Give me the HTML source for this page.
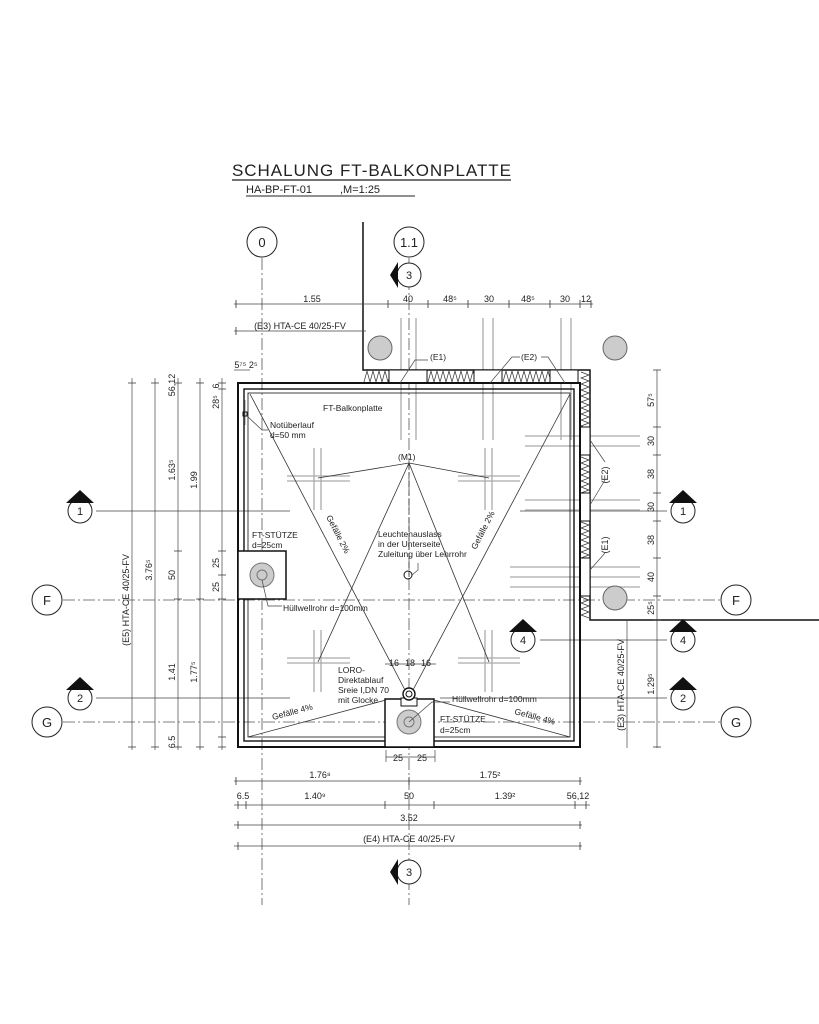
<!DOCTYPE html>
<html><head><meta charset="utf-8"><style>
html,body{margin:0;padding:0;background:#fff}
svg{display:block}
text{font-family:"Liberation Sans",Arial,sans-serif;fill:#222}
</style></head><body>
<svg width="819" height="1024" viewBox="0 0 819 1024" xmlns="http://www.w3.org/2000/svg">
<rect width="819" height="1024" fill="#fff"/>
<!-- title -->
<text x="232" y="176" font-size="17" textLength="279" lengthAdjust="spacing">SCHALUNG  FT-BALKONPLATTE</text>
<line x1="232" y1="180" x2="511" y2="180" stroke="#222" stroke-width="1.2"/>
<text x="246" y="193" font-size="11">HA-BP-FT-01</text>
<text x="340" y="193" font-size="11">,M=1:25</text>
<line x1="246" y1="196" x2="415" y2="196" stroke="#222" stroke-width="1"/>

<!-- grid axes -->
<g stroke="#555" stroke-width="0.8" stroke-dasharray="12,3,2,3" fill="none">
<line x1="262" y1="258" x2="262" y2="905"/>
<line x1="409" y1="258" x2="409" y2="905"/>
<line x1="63" y1="600" x2="720" y2="600"/>
<line x1="63" y1="722" x2="720" y2="722"/>
</g>
<g fill="#fff" stroke="#222" stroke-width="1">
<circle cx="262" cy="242" r="15"/><circle cx="409" cy="242" r="15"/>
<circle cx="47" cy="600" r="15"/><circle cx="736" cy="600" r="15"/>
<circle cx="47" cy="722" r="15"/><circle cx="736" cy="722" r="15"/>
</g>
<g font-size="13" text-anchor="middle">
<text x="262" y="247">0</text><text x="409" y="247">1.1</text>
<text x="47" y="605">F</text><text x="736" y="605">F</text>
<text x="47" y="727">G</text><text x="736" y="727">G</text>
</g>

<!-- section lines -->
<g stroke="#444" stroke-width="0.8">
<line x1="96" y1="511" x2="290" y2="511"/><line x1="520" y1="511" x2="667" y2="511"/>
<line x1="96" y1="698" x2="290" y2="698"/><line x1="440" y1="698" x2="667" y2="698"/>
<line x1="540" y1="640" x2="667" y2="640"/>
</g>
<g fill="#fff" stroke="#222" stroke-width="1">
<circle cx="80" cy="511" r="12"/><circle cx="683" cy="511" r="12"/>
<circle cx="80" cy="698" r="12"/><circle cx="683" cy="698" r="12"/>
<circle cx="523" cy="640" r="12"/><circle cx="683" cy="640" r="12"/>
<circle cx="409" cy="275" r="12"/><circle cx="409" cy="872" r="12"/>
</g>
<g fill="#111">
<path d="M66 503 L80 490 L94 503 Z"/><path d="M669 503 L683 490 L697 503 Z"/>
<path d="M66 690 L80 677 L94 690 Z"/><path d="M669 690 L683 677 L697 690 Z"/>
<path d="M509 632 L523 619 L537 632 Z"/><path d="M669 632 L683 619 L697 632 Z"/>
<path d="M398 262 L390 275 L398 288 Z"/><path d="M398 859 L390 872 L398 885 Z"/>
</g>
<g font-size="11" text-anchor="middle">
<text x="80" y="515">1</text><text x="683" y="515">1</text>
<text x="80" y="702">2</text><text x="683" y="702">2</text>
<text x="523" y="644">4</text><text x="683" y="644">4</text>
<text x="409" y="279">3</text><text x="409" y="876">3</text>
</g>

<!-- rebar gray lines -->
<g stroke="#aaa" stroke-width="1.3">
<line x1="401" y1="318" x2="401" y2="440"/><line x1="416" y1="318" x2="416" y2="440"/>
<line x1="483" y1="318" x2="483" y2="440"/><line x1="493" y1="318" x2="493" y2="440"/>
<line x1="561" y1="318" x2="561" y2="440"/><line x1="571" y1="318" x2="571" y2="440"/>
<line x1="525" y1="436" x2="640" y2="436"/><line x1="525" y1="446" x2="640" y2="446"/>
<line x1="525" y1="500" x2="640" y2="500"/><line x1="525" y1="510" x2="640" y2="510"/>
<line x1="510" y1="567" x2="640" y2="567"/><line x1="510" y1="577" x2="640" y2="577"/><line x1="510" y1="587" x2="640" y2="587"/>
<line x1="314" y1="448" x2="314" y2="510"/><line x1="321" y1="448" x2="321" y2="510"/>
<line x1="287" y1="476" x2="350" y2="476"/><line x1="287" y1="481" x2="350" y2="481"/>
<line x1="485" y1="448" x2="485" y2="510"/><line x1="492" y1="448" x2="492" y2="510"/>
<line x1="458" y1="476" x2="520" y2="476"/><line x1="458" y1="481" x2="520" y2="481"/>
<line x1="314" y1="630" x2="314" y2="692"/><line x1="321" y1="630" x2="321" y2="692"/>
<line x1="287" y1="658" x2="350" y2="658"/><line x1="287" y1="663" x2="350" y2="663"/>
<line x1="485" y1="630" x2="485" y2="692"/><line x1="492" y1="630" x2="492" y2="692"/>
<line x1="458" y1="658" x2="520" y2="658"/><line x1="458" y1="663" x2="520" y2="663"/>
<line x1="245" y1="400" x2="245" y2="425"/>
</g>

<!-- wall -->
<g stroke="#111" stroke-width="1.5" fill="none">
<polyline points="363,222 363,370 590,370 590,620 819,620"/>
<line x1="363" y1="383" x2="580" y2="383"/>
<line x1="580" y1="383" x2="580" y2="620"/>
</g>
<g stroke="#333" stroke-width="0.7" fill="none">
<path d="M364 382 l3 -11 l3 11 l3 -11 l3 11 l3 -11 l3 11 l3 -11 l3 11 l3 -11 l3 11 l3 -11 l3 11"/>
<path d="M428 382 l3 -11 l3 11 l3 -11 l3 11 l3 -11 l3 11 l3 -11 l3 11 l3 -11 l3 11 l3 -11 l3 11 l3 -11 l3 11 l3 -11 l3 11"/>
<path d="M503 382 l3 -11 l3 11 l3 -11 l3 11 l3 -11 l3 11 l3 -11 l3 11 l3 -11 l3 11 l3 -11 l3 11 l3 -11 l3 11 l3 -11 l3 11"/>
<path d="M581 372 l8 3 l-8 3 l8 3 l-8 3 l8 3 l-8 3 l8 3 l-8 3 l8 3 l-8 3 l8 3 l-8 3 l8 3 l-8 3 l8 3 l-8 3 l8 3 l-8 3 l8 3 l-8 3"/>
<path d="M581 457 l8 3 l-8 3 l8 3 l-8 3 l8 3 l-8 3 l8 3 l-8 3 l8 3 l-8 3 l8 3 l-8 3"/>
<path d="M581 522 l8 3 l-8 3 l8 3 l-8 3 l8 3 l-8 3 l8 3 l-8 3 l8 3 l-8 3 l8 3 l-8 3"/>
<path d="M581 597 l8 3 l-8 3 l8 3 l-8 3 l8 3 l-8 3 l8 3"/>
</g>
<g fill="#fff" stroke="#111" stroke-width="1">
<rect x="389" y="370" width="38" height="13"/><rect x="474" y="370" width="28" height="13"/><rect x="550" y="370" width="28" height="13"/>
<rect x="580" y="427" width="10" height="28"/><rect x="580" y="493" width="10" height="28"/><rect x="580" y="558" width="10" height="38"/>
</g>

<!-- slab -->
<g fill="none" stroke="#111">
<rect x="238" y="383" width="342" height="364" stroke-width="2"/>
<rect x="244" y="389" width="330" height="352" stroke-width="1.4"/>
<rect x="248" y="393" width="322" height="344" stroke-width="0.8"/>
</g>
<rect x="238" y="551" width="48" height="48" fill="#fff" stroke="#111" stroke-width="1.5"/>
<circle cx="262" cy="575" r="12" fill="#ccc" stroke="#777"/><circle cx="262" cy="575" r="5" fill="none" stroke="#777"/>
<rect x="385" y="699" width="49" height="48" fill="#fff" stroke="#111" stroke-width="1.5"/>
<circle cx="409" cy="722" r="12" fill="#ccc" stroke="#777"/><circle cx="409" cy="722" r="5" fill="none" stroke="#777"/>
<rect x="401" y="698" width="16" height="8" fill="#fff" stroke="#111"/>
<circle cx="409" cy="694" r="6" fill="#fff" stroke="#111" stroke-width="1.4"/><circle cx="409" cy="694" r="3" fill="none" stroke="#111"/>
<g fill="#ccc" stroke="#666">
<circle cx="380" cy="348" r="12"/><circle cx="615" cy="348" r="12"/><circle cx="615" cy="598" r="12"/>
</g>
<rect x="243" y="412" width="4" height="4" fill="none" stroke="#111"/>

<g stroke="#333" stroke-width="0.8" fill="none">
<line x1="250" y1="394" x2="405" y2="690"/><line x1="570" y1="394" x2="413" y2="690"/>
<line x1="409" y1="463" x2="318" y2="478"/><line x1="409" y1="463" x2="489" y2="478"/>
<line x1="409" y1="463" x2="318" y2="662"/><line x1="409" y1="463" x2="489" y2="662"/>
<line x1="248" y1="737" x2="386" y2="700"/><line x1="570" y1="737" x2="434" y2="700"/>
<line x1="409" y1="463" x2="409" y2="580" stroke-dasharray="6,3"/>
</g>
<circle cx="408" cy="575" r="4" fill="none" stroke="#111"/>

<g stroke="#444" stroke-width="0.7">
<line x1="234" y1="304" x2="593" y2="304"/>
<line x1="234" y1="331" x2="366" y2="331"/>
<line x1="234" y1="370" x2="250" y2="370"/>
<line x1="234" y1="781" x2="582" y2="781"/>
<line x1="234" y1="805" x2="590" y2="805"/>
<line x1="234" y1="825" x2="582" y2="825"/>
<line x1="234" y1="846" x2="582" y2="846"/>
<line x1="386" y1="757" x2="435" y2="757"/>
<line x1="386" y1="750" x2="386" y2="762"/><line x1="435" y1="750" x2="435" y2="762"/>
<line x1="385" y1="664" x2="436" y2="664"/>
<line x1="132" y1="378" x2="132" y2="750"/><line x1="155" y1="378" x2="155" y2="750"/>
<line x1="178" y1="378" x2="178" y2="750"/><line x1="200" y1="378" x2="200" y2="750"/>
<line x1="222" y1="378" x2="222" y2="750"/>
<line x1="657" y1="370" x2="657" y2="748"/>
<line x1="627" y1="620" x2="627" y2="748"/>
</g>
<g stroke="#333" stroke-width="0.8">
<path d="M236 300v8M388 300v8M428 300v8M468 300v8M509 300v8M550 300v8M580 300v8M591 300v8"/>
<path d="M236 327v8M236 777v8M409 777v8M580 777v8M238 801v8M246 801v8M385 801v8M434 801v8M575 801v8M586 801v8M238 821v8M580 821v8M238 842v8M580 842v8"/>
<path d="M128 383h8M128 747h8M151 383h8M151 747h8M174 383h8M174 551h8M174 599h8M174 747h8M196 383h8M196 599h8M196 747h8M218 383h8M218 389h8M218 551h8M218 575h8M218 599h8M218 737h8M218 747h8"/>
<path d="M653 370h8M653 427h8M653 455h8M653 493h8M653 521h8M653 558h8M653 596h8M653 620h8M653 747h8"/>
</g>
<g font-size="9" text-anchor="middle">
<text x="312" y="302">1.55</text><text x="408" y="302">40</text><text x="450" y="302">48⁵</text>
<text x="489" y="302">30</text><text x="528" y="302">48⁵</text><text x="565" y="302">30</text><text x="586" y="302">12</text>
<text x="300" y="329">(E3) HTA-CE 40/25-FV</text>
<text x="246" y="368">5⁷⁵ 2⁵</text>
<text x="320" y="778">1.76⁸</text><text x="490" y="778">1.75²</text>
<text x="243" y="799">6.5</text><text x="315" y="799">1.40⁹</text><text x="409" y="799">50</text>
<text x="505" y="799">1.39²</text><text x="578" y="799">56,12</text>
<text x="409" y="821">3.52</text>
<text x="409" y="842">(E4) HTA-CE 40/25-FV</text>
<text x="398" y="761">25</text><text x="422" y="761">25</text>
<text x="394" y="666">16</text><text x="410" y="666">18</text><text x="426" y="666">16</text>
</g>
<g font-size="9" text-anchor="middle">
<text transform="translate(129,600) rotate(-90)">(E5) HTA-CE 40/25-FV</text>
<text transform="translate(152,570) rotate(-90)">3.76⁵</text>
<text transform="translate(175,385) rotate(-90)">56,12</text>
<text transform="translate(175,470) rotate(-90)">1.63⁵</text>
<text transform="translate(175,575) rotate(-90)">50</text>
<text transform="translate(175,672) rotate(-90)">1.41</text>
<text transform="translate(175,742) rotate(-90)">6.5</text>
<text transform="translate(197,480) rotate(-90)">1.99</text>
<text transform="translate(197,672) rotate(-90)">1.77⁵</text>
<text transform="translate(219,386) rotate(-90)">6</text>
<text transform="translate(219,402) rotate(-90)">28⁵</text>
<text transform="translate(219,563) rotate(-90)">25</text>
<text transform="translate(219,587) rotate(-90)">25</text>
<text transform="translate(654,400) rotate(-90)">57⁵</text>
<text transform="translate(654,441) rotate(-90)">30</text>
<text transform="translate(654,474) rotate(-90)">38</text>
<text transform="translate(654,507) rotate(-90)">30</text>
<text transform="translate(654,540) rotate(-90)">38</text>
<text transform="translate(654,577) rotate(-90)">40</text>
<text transform="translate(654,608) rotate(-90)">25⁵</text>
<text transform="translate(654,684) rotate(-90)">1.29⁵</text>
<text transform="translate(624,685) rotate(-90)">(E3) HTA-CE 40/25-FV</text>
<text transform="translate(608,475) rotate(-90)">(E2)</text>
<text transform="translate(608,545) rotate(-90)">(E1)</text>
</g>
<g font-size="8.5">
<text x="323" y="411">FT-Balkonplatte</text>
<text x="270" y="428">Notüberlauf</text><text x="270" y="438">d=50 mm</text>
<text x="398" y="460">(M1)</text>
<text x="430" y="360">(E1)</text><text x="521" y="360">(E2)</text>
<text x="378" y="537">Leuchtenauslass</text><text x="378" y="547">in der Unterseite</text><text x="378" y="557">Zuleitung über Lehrrohr</text>
<text x="252" y="538">FT-STÜTZE</text><text x="252" y="548">d=25cm</text>
<text x="283" y="611">Hüllwellrohr d=100mm</text>
<text x="338" y="673">LORO-</text><text x="338" y="683">Direktablauf</text><text x="338" y="693">Sreie I,DN 70</text><text x="338" y="703">mit Glocke</text>
<text x="452" y="702">Hüllwellrohr d=100mm</text>
<text x="440" y="722">FT-STÜTZE</text><text x="440" y="733">d=25cm</text>
<text transform="translate(273,720) rotate(-15)">Gefälle 4%</text>
<text transform="translate(514,714) rotate(15)">Gefälle 4%</text>
<text transform="translate(326,517) rotate(63)">Gefälle 2%</text>
<text transform="translate(476,550) rotate(-63)">Gefälle 2%</text>
</g>
<g stroke="#444" stroke-width="0.7" fill="none">
<polyline points="247,416 262,430 268,430"/>
<polyline points="400,383 415,360 428,360"/><polyline points="490,383 512,357 520,357"/><polyline points="565,383 548,357 541,357"/>
<polyline points="590,440 605,462"/><polyline points="590,505 605,480"/><polyline points="590,570 605,553"/>
<polyline points="262,580 268,606 282,606"/>
<polyline points="409,722 432,702 450,702"/>
<polyline points="412,575 418,570 418,563"/>
</g>
</svg>
</body></html>
